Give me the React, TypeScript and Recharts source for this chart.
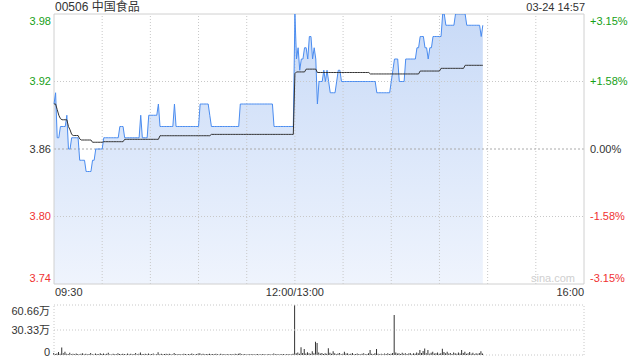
import React from 'react';
import {
  ComposedChart,
  Area,
  Line,
  BarChart,
  Bar,
  XAxis,
  YAxis,
  ReferenceLine,
} from 'recharts';

const FONT = "'Liberation Sans', Arial, 'Noto Sans CJK SC', sans-serif";
const GREEN = '#16a016';
const RED = '#f03232';
const TEXT = '#333';
const GRID = '#c8c8c8';

const STOCK_TITLE = '00506 中国食品';
const STAMP = '03-24 14:57';
const PREV_CLOSE = 3.86;
const PRICE_TICKS = [3.74, 3.8, 3.86, 3.92, 3.98];
const PCT_LABELS = ['-3.15%', '-1.58%', '0.00%', '+1.58%', '+3.15%'];
const TIME_TICKS = [0, 150, 330];
const TIME_LABELS = ['09:30', '12:00/13:00', '16:00'];
const GRID_MINUTES = [30, 60, 90, 120, 150, 180, 210, 240, 270, 300];
const VOL_TICKS = [0, 30.33, 60.66];
const VOL_LABELS = ['0', '30.33万', '60.66万'];

// minute prices 09:30 - 11:59
const morningPrice = [
  3.90, 3.91, 3.87, 3.87, 3.88, 3.88, 3.88, 3.88, 3.89, 3.86,
  3.86, 3.87, 3.87, 3.87, 3.87, 3.87, 3.85, 3.85, 3.85, 3.85,
  3.84, 3.84, 3.84, 3.84, 3.85, 3.85, 3.86, 3.86, 3.86, 3.86,
  3.86, 3.87, 3.87, 3.87, 3.87, 3.87, 3.87, 3.87, 3.87, 3.87,
  3.87, 3.88, 3.88, 3.88, 3.87, 3.87, 3.87, 3.87, 3.87, 3.87,
  3.87, 3.87, 3.87, 3.87, 3.89, 3.87, 3.87, 3.87, 3.87, 3.89,
  3.89, 3.89, 3.89, 3.89, 3.89, 3.90, 3.88, 3.88, 3.88, 3.88,
  3.88, 3.88, 3.88, 3.88, 3.88, 3.90, 3.88, 3.88, 3.88, 3.88,
  3.88, 3.88, 3.88, 3.88, 3.88, 3.88, 3.88, 3.88, 3.88, 3.88,
  3.88, 3.90, 3.90, 3.90, 3.90, 3.90, 3.90, 3.89, 3.88, 3.88,
  3.88, 3.88, 3.88, 3.88, 3.88, 3.88, 3.88, 3.88, 3.88, 3.88,
  3.88, 3.88, 3.88, 3.88, 3.88, 3.88, 3.90, 3.90, 3.90, 3.90,
  3.90, 3.90, 3.90, 3.90, 3.90, 3.90, 3.90, 3.90, 3.90, 3.90,
  3.90, 3.90, 3.90, 3.90, 3.90, 3.90, 3.90, 3.88, 3.88, 3.88,
  3.88, 3.88, 3.88, 3.88, 3.88, 3.88, 3.88, 3.88, 3.88, 3.88,
];

// minute prices 13:00 - 14:57
const afternoonPrice = [
  3.98, 3.94, 3.95, 3.93, 3.94, 3.94, 3.95, 3.95, 3.94, 3.96,
  3.96, 3.94, 3.95, 3.94, 3.90, 3.92, 3.92, 3.92, 3.93, 3.92,
  3.93, 3.92, 3.91, 3.91, 3.91, 3.91, 3.92, 3.93, 3.93, 3.92,
  3.92, 3.92, 3.92, 3.92, 3.92, 3.92, 3.92, 3.92, 3.92, 3.92,
  3.92, 3.92, 3.92, 3.92, 3.92, 3.92, 3.92, 3.92, 3.92, 3.92,
  3.92, 3.91, 3.91, 3.91, 3.91, 3.91, 3.91, 3.91, 3.91, 3.91,
  3.92, 3.93, 3.94, 3.94, 3.94, 3.92, 3.92, 3.92, 3.92, 3.94,
  3.94, 3.94, 3.94, 3.94, 3.94, 3.94, 3.95, 3.95, 3.96, 3.96,
  3.96, 3.95, 3.95, 3.94, 3.95, 3.95, 3.96, 3.96, 3.96, 3.96,
  3.96, 3.96, 3.98, 3.98, 3.97, 3.97, 3.97, 3.97, 3.97, 3.97,
  3.98, 3.98, 3.98, 3.98, 3.98, 3.98, 3.98, 3.97, 3.97, 3.97,
  3.97, 3.97, 3.97, 3.97, 3.97, 3.97, 3.96, 3.97,
];

// average price line
const morningAvg = [
  3.900, 3.900, 3.895, 3.890, 3.887, 3.886, 3.886, 3.886, 3.886, 3.880,
  3.877, 3.873, 3.872, 3.872, 3.872, 3.872, 3.869, 3.868, 3.868, 3.868,
  3.868, 3.868, 3.868, 3.868, 3.866, 3.866, 3.866, 3.866, 3.866, 3.866,
  3.866, 3.8665, 3.8665, 3.8665, 3.8665, 3.8665, 3.8665, 3.8665, 3.8665, 3.8665,
  3.8665, 3.8665, 3.8665, 3.8665, 3.8686, 3.8686, 3.8686, 3.8686, 3.8686, 3.8686,
  3.8686, 3.8686, 3.8686, 3.8686, 3.8686, 3.8686, 3.8686, 3.8686, 3.8686, 3.8686,
  3.8686, 3.8686, 3.8686, 3.8686, 3.8686, 3.8686, 3.8718, 3.8718, 3.8718, 3.8718,
  3.8718, 3.8718, 3.8718, 3.8718, 3.8718, 3.8718, 3.8718, 3.8718, 3.8718, 3.8718,
  3.8718, 3.8718, 3.8718, 3.8718, 3.8718, 3.8718, 3.8718, 3.8718, 3.8718, 3.8718,
  3.8718, 3.8718, 3.8718, 3.8718, 3.8718, 3.8718, 3.8718, 3.8718, 3.873, 3.873,
  3.873, 3.873, 3.873, 3.873, 3.873, 3.873, 3.873, 3.873, 3.873, 3.873,
  3.873, 3.873, 3.873, 3.873, 3.873, 3.873, 3.873, 3.873, 3.873, 3.873,
  3.873, 3.873, 3.873, 3.873, 3.873, 3.873, 3.873, 3.873, 3.873, 3.873,
  3.873, 3.873, 3.873, 3.873, 3.873, 3.873, 3.873, 3.873, 3.873, 3.873,
  3.873, 3.873, 3.873, 3.873, 3.873, 3.873, 3.873, 3.873, 3.873, 3.873,
];

const afternoonAvg = [
  3.927, 3.9285, 3.9285, 3.9285, 3.9285, 3.9285, 3.9285, 3.931, 3.931, 3.931,
  3.931, 3.931, 3.931, 3.931, 3.928, 3.928, 3.928, 3.928, 3.928, 3.928,
  3.928, 3.928, 3.928, 3.928, 3.928, 3.928, 3.928, 3.928, 3.928, 3.928,
  3.928, 3.928, 3.928, 3.928, 3.928, 3.928, 3.928, 3.928, 3.928, 3.928,
  3.928, 3.928, 3.928, 3.928, 3.928, 3.928, 3.928, 3.9267, 3.9267, 3.9267,
  3.9267, 3.9267, 3.9267, 3.9267, 3.9267, 3.9267, 3.9267, 3.9267, 3.9267, 3.9267,
  3.9267, 3.9267, 3.9267, 3.9267, 3.9267, 3.9267, 3.9267, 3.9267, 3.9267, 3.9267,
  3.9267, 3.9267, 3.9267, 3.9267, 3.9267, 3.9267, 3.9267, 3.9267, 3.9293, 3.9293,
  3.9293, 3.9293, 3.9293, 3.9293, 3.9293, 3.9293, 3.9293, 3.9293, 3.9293, 3.9293,
  3.9293, 3.9317, 3.9317, 3.9317, 3.9317, 3.9317, 3.9317, 3.9317, 3.9317, 3.9317,
  3.9317, 3.9317, 3.9317, 3.9317, 3.9317, 3.9317, 3.9344, 3.9344, 3.9344, 3.9344,
  3.9344, 3.9344, 3.9344, 3.9344, 3.9344, 3.9344, 3.9344, 3.9344,
];

// volume, 万 shares
const morningVol = [
  2.5, 1.2, 1.8, 3.5, 1.5, 9.0, 2.2, 4.0, 1.6, 1.2,
  2.8, 1.0, 1.5, 0.8, 1.9, 1.1, 0.7, 1.4, 2.0, 0.9,
  1.6, 0.8, 1.2, 2.4, 1.0, 0.6, 1.8, 1.3, 0.9, 2.2,
  1.1, 1.7, 0.8, 1.4, 2.6, 1.0, 0.7, 1.5, 1.2, 0.9,
  2.0, 1.3, 0.8, 1.6, 1.1, 0.7, 1.9, 1.0, 1.4, 0.8,
  1.2, 2.3, 0.9, 1.5, 3.0, 1.1, 0.8, 1.4, 1.0, 1.7,
  0.9, 1.3, 1.8, 0.7, 1.2, 3.2, 1.0, 1.5, 0.8, 1.1,
  1.4, 0.9, 1.6, 1.0, 0.7, 2.4, 1.2, 0.8, 1.3, 1.0,
  0.9, 1.5, 1.1, 0.7, 1.3, 0.8, 1.7, 1.0, 0.6, 1.2,
  1.8, 2.2, 1.0, 1.4, 0.8, 1.1, 1.3, 1.6, 0.9, 1.2,
  0.8, 1.4, 1.0, 0.7, 1.5, 0.9, 1.2, 0.6, 1.3, 1.0,
  0.8, 1.1, 0.7, 1.4, 0.9, 1.6, 2.0, 1.0, 0.8, 1.2,
  0.7, 1.0, 1.3, 0.8, 1.1, 0.6, 0.9, 1.2, 0.7, 1.0,
  0.8, 1.1, 0.6, 0.9, 1.3, 0.7, 1.0, 1.8, 0.9, 1.2,
  0.7, 1.0, 0.8, 1.1, 0.6, 0.9, 1.2, 0.8, 1.0, 1.5,
];

const afternoonVol = [
  60.66, 2.0, 3.0, 1.5, 9.3, 2.5, 7.3, 1.8, 3.2, 2.0,
  1.5, 4.5, 2.2, 16.2, 14.5, 3.0, 1.8, 2.5, 1.2, 2.0,
  1.5, 8.1, 2.8, 1.6, 4.5, 2.0, 1.2, 1.8, 2.5, 1.0,
  1.4, 4.0, 1.8, 2.2, 1.0, 1.6, 2.4, 0.9, 1.3, 1.8,
  1.1, 0.8, 1.5, 2.0, 1.0, 1.3, 2.2, 6.0, 1.4, 1.0,
  2.0, 7.3, 1.6, 1.0, 1.4, 0.9, 1.7, 1.2, 2.0, 1.1,
  1.5, 2.5, 48.5, 3.0, 1.8, 2.2, 1.2, 2.8, 1.5, 2.0,
  1.3, 1.8, 2.5, 1.0, 2.0, 1.4, 3.0, 2.2, 6.0, 2.5,
  5.0, 8.0, 2.0, 6.0, 1.5, 2.8, 4.0, 1.8, 2.2, 3.0,
  1.6, 2.0, 7.5, 3.5, 2.0, 4.0, 1.8, 2.5, 1.2, 3.0,
  2.2, 1.5, 3.0, 1.8, 6.0, 2.5, 4.0, 1.6, 2.0, 3.5,
  1.5, 2.8, 1.2, 2.0, 1.6, 2.4, 4.5, 1.8,
];

// minute slot on the 330-minute trading axis (lunch break removed)
const chartData = [
  ...morningPrice.map((p, i) => ({ m: i, p, a: morningAvg[i], v: morningVol[i] })),
  ...afternoonPrice.map((p, i) => ({ m: 150 + i, p, a: afternoonAvg[i], v: afternoonVol[i] })),
];

function priceColor(v: number) {
  if (v > PREV_CLOSE + 1e-9) return GREEN;
  if (v < PREV_CLOSE - 1e-9) return RED;
  return TEXT;
}

// eslint-disable-next-line @typescript-eslint/no-explicit-any
function PriceTick(props: any) {
  const { x, y, payload, side } = props;
  const idx = PRICE_TICKS.indexOf(payload.value);
  // edge labels sit inside the plot box
  const shift = idx === PRICE_TICKS.length - 1 ? 7 : idx === 0 ? -6 : 0;
  const label = side === 'left' ? payload.value.toFixed(2) : PCT_LABELS[idx];
  return (
    <text
      x={x}
      y={y + shift}
      dy="0.35em"
      textAnchor={side === 'left' ? 'end' : 'start'}
      fill={priceColor(payload.value)}
      fontSize={11}
      fontFamily={FONT}
    >
      {label}
    </text>
  );
}

// eslint-disable-next-line @typescript-eslint/no-explicit-any
function TimeTick(props: any) {
  const { x, y, payload } = props;
  const idx = TIME_TICKS.indexOf(payload.value);
  const anchor = idx === 0 ? 'start' : idx === TIME_TICKS.length - 1 ? 'end' : 'middle';
  return (
    <text x={x + (idx === 0 ? 1 : 0)} y={y} dy="0.4em" textAnchor={anchor} fill={TEXT} fontSize={11} fontFamily={FONT}>
      {TIME_LABELS[idx]}
    </text>
  );
}

// eslint-disable-next-line @typescript-eslint/no-explicit-any
function VolTick(props: any) {
  const { x, y, payload } = props;
  const idx = VOL_TICKS.indexOf(payload.value);
  const shift = idx === VOL_TICKS.length - 1 ? 6 : idx === 0 ? -3 : 0;
  return (
    <text x={x} y={y + shift} dy="0.35em" textAnchor="end" fill={TEXT} fontSize={11} fontFamily={FONT}>
      {VOL_LABELS[idx]}
    </text>
  );
}

export default function App() {
  return (
    <div style={{ position: 'relative', width: 640, height: 360, background: '#fff', fontFamily: FONT }}>
      <style>{'body{margin:0}'}</style>
      <div style={{ position: 'absolute', left: 55, top: 0, fontSize: 12, lineHeight: '14px', color: TEXT }}>
        {STOCK_TITLE}
      </div>
      <div style={{ position: 'absolute', right: 55, top: 0, fontSize: 11, lineHeight: '15px', color: TEXT }}>
        {STAMP}
      </div>

      <div style={{ position: 'absolute', left: 0, top: 0 }}>
        <ComposedChart width={640} height={300} data={chartData} margin={{ top: 14, right: 0, bottom: 0, left: 0 }}>
          <defs>
            <linearGradient id="priceFill" x1="0" y1="0" x2="0" y2="1">
              <stop offset="0%" stopColor="#c8daf7" />
              <stop offset="100%" stopColor="#eff4fd" />
            </linearGradient>
          </defs>
          <XAxis
            type="number"
            dataKey="m"
            domain={[0, 330]}
            ticks={TIME_TICKS}
            interval={0}
            height={16}
            axisLine={false}
            tickLine={false}
            tickSize={4}
            tickMargin={4}
            tick={<TimeTick />}
          />
          <YAxis
            yAxisId="price"
            domain={[3.74, 3.98]}
            ticks={PRICE_TICKS}
            interval={0}
            allowDataOverflow
            width={54}
            axisLine={false}
            tickLine={false}
            tickSize={1}
            tickMargin={2}
            tick={<PriceTick side="left" />}
          />
          <YAxis
            yAxisId="pct"
            orientation="right"
            domain={[3.74, 3.98]}
            ticks={PRICE_TICKS}
            interval={0}
            allowDataOverflow
            width={56}
            axisLine={false}
            tickLine={false}
            tickSize={4}
            tickMargin={2}
            tick={<PriceTick side="right" />}
          />
          <Area
            yAxisId="price"
            type="linear"
            dataKey="p"
            stroke="none"
            fill="url(#priceFill)"
            fillOpacity={1}
            isAnimationActive={false}
          />
          {GRID_MINUTES.map((m) => (
            <ReferenceLine key={m} yAxisId="price" x={m} stroke={GRID} strokeDasharray="1 2" />
          ))}
          <ReferenceLine yAxisId="price" y={3.92} stroke={GRID} strokeDasharray="1 2" />
          <ReferenceLine yAxisId="price" y={3.8} stroke={GRID} strokeDasharray="1 2" />
          <ReferenceLine yAxisId="price" y={PREV_CLOSE} stroke="#aaa" strokeDasharray="2 2" />
          <ReferenceLine yAxisId="price" y={3.98} stroke="#d0d0d0" />
          <ReferenceLine yAxisId="price" y={3.74} stroke="#d0d0d0" />
          <ReferenceLine yAxisId="price" x={0} stroke="#d0d0d0" />
          <ReferenceLine yAxisId="price" x={330} stroke="#d0d0d0" />
          <Line
            yAxisId="price"
            type="linear"
            dataKey="p"
            stroke="#4a8cf0"
            strokeWidth={1}
            dot={false}
            isAnimationActive={false}
          />
          <Line
            yAxisId="pct"
            type="linear"
            dataKey="a"
            stroke="#333"
            strokeWidth={1}
            dot={false}
            isAnimationActive={false}
          />
        </ComposedChart>
      </div>

      <div style={{ position: 'absolute', right: 65, top: 271, fontSize: 11, lineHeight: '14px', color: '#cfcfcf' }}>
        sina.com
      </div>

      <div style={{ position: 'absolute', left: 0, top: 300 }}>
        <BarChart width={640} height={60} data={chartData} margin={{ top: 5, right: 56, bottom: 5, left: 0 }}>
          <XAxis type="number" dataKey="m" domain={[0, 330]} hide />
          <YAxis
            domain={[0, 60.66]}
            ticks={VOL_TICKS}
            interval={0}
            allowDataOverflow
            width={54}
            axisLine={false}
            tickLine={false}
            tickSize={2}
            tickMargin={2}
            tick={<VolTick />}
          />
          <ReferenceLine y={60.66} stroke={GRID} strokeDasharray="1 2" />
          <ReferenceLine y={30.33} stroke={GRID} strokeDasharray="1 2" />
          <ReferenceLine y={0} stroke={GRID} strokeDasharray="1 2" />
          <ReferenceLine x={0} stroke={GRID} strokeDasharray="1 2" />
          <ReferenceLine x={330} stroke={GRID} strokeDasharray="1 2" />
          <Bar dataKey="v" fill="#333" barSize={1} isAnimationActive={false} />
        </BarChart>
      </div>
    </div>
  );
}
